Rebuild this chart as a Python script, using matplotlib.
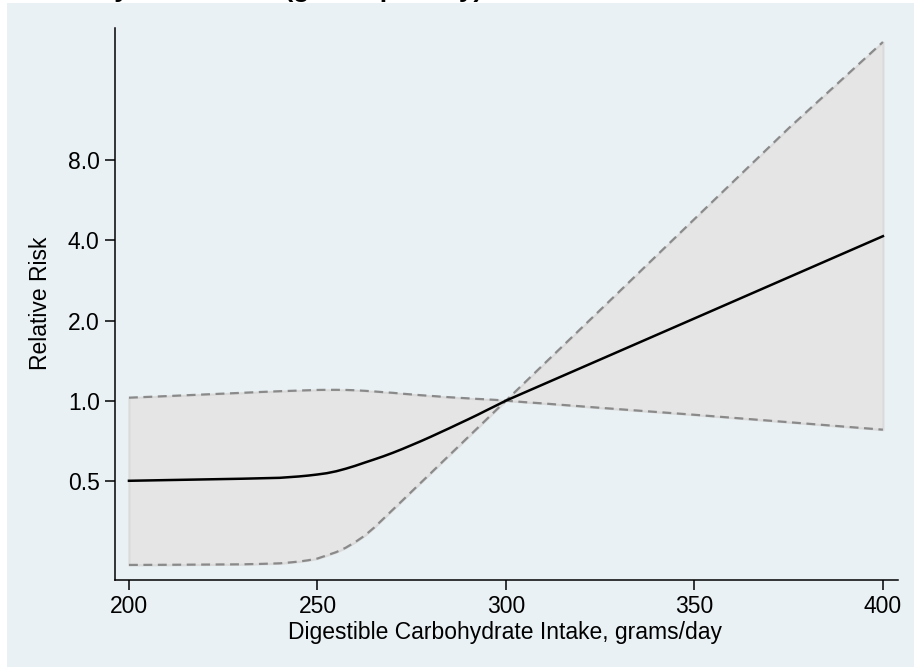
import matplotlib
matplotlib.use("Agg")
import matplotlib.pyplot as plt
from matplotlib.patches import Rectangle

plt.rcParams['font.family'] = ['Liberation Sans', 'DejaVu Sans']

# intake grid (g/day) and spline estimates of the relative risk
intake = [200, 210, 220, 230, 235, 240, 242.5, 245, 247.5, 250, 252.5, 255,
          257.5, 260, 262.5, 265, 267.5, 270, 272.5, 275, 277.5, 280, 282.5,
          285, 287.5, 290, 292.5, 295, 297.5, 300, 305, 310, 325, 350, 375, 400]
rr = [0.500, 0.503, 0.506, 0.509, 0.511, 0.513, 0.516, 0.519, 0.523, 0.528,
      0.534, 0.543, 0.555, 0.569, 0.585, 0.601, 0.618, 0.637, 0.658, 0.681,
      0.705, 0.731, 0.759, 0.788, 0.819, 0.851, 0.885, 0.922, 0.960, 1.000,
      1.074, 1.153, 1.427, 2.036, 2.906, 4.147]
# confidence bounds: one rises from the lower left, the other falls from the upper left
ci_rising = [0.2415, 0.2418, 0.2423, 0.2428, 0.2437, 0.2449, 0.2466, 0.2486,
             0.2514, 0.2553, 0.2624, 0.2699, 0.2803, 0.2942, 0.3110, 0.3333,
             0.3602, 0.3896, 0.4212, 0.4558, 0.4931, 0.5332, 0.5771, 0.6242,
             0.6751, 0.7305, 0.7900, 0.8545, 0.9246, 1.000, 1.170, 1.369,
             2.19, 4.81, 10.55, 22.24]
ci_falling = [1.026, 1.040, 1.055, 1.070, 1.078, 1.085, 1.088, 1.091, 1.094,
              1.097, 1.098, 1.098, 1.097, 1.094, 1.089, 1.083, 1.076, 1.070,
              1.062, 1.055, 1.048, 1.042, 1.036, 1.030, 1.025, 1.020, 1.015,
              1.011, 1.006, 1.000, 0.987, 0.976, 0.940, 0.885, 0.830, 0.778]

x_ticks = [200, 250, 300, 350, 400]
y_ticks = [0.5, 1.0, 2.0, 4.0, 8.0]
y_tick_labels = ['0.5', '1.0', '2.0', '4.0', '8.0']

bg = '#e9f1f4'
W, H = 914, 667
fig = plt.figure(figsize=(W / 100, H / 100), dpi=100)
fig.patch.set_facecolor('white')
fig.add_artist(Rectangle((7 / W, 0), 1 - 7 / W, 1 - 3 / H, transform=fig.transFigure,
                         facecolor=bg, edgecolor='none', zorder=0))

# title sits just above the canvas, only its descenders reach into view
fig.text(22 / W, 1 + 3.5 / H, 'Carbohydrate Intake (grams per day)', fontsize=19,
         fontweight='bold', ha='left', va='baseline', zorder=5)

ax = fig.add_axes([115 / W, 1 - 580 / H, (898 - 115) / W, (580 - 28) / H])
ax.set_facecolor('none')

ax.fill_between(intake, ci_rising, ci_falling, facecolor='#e5e5e5',
                edgecolor='#dadada', linewidth=1.5, zorder=1)
ax.plot(intake, ci_rising, color='#8a8a8a', lw=1.6, ls=(0, (4, 2.5)), zorder=2)
ax.plot(intake, ci_falling, color='#8a8a8a', lw=1.6, ls=(0, (4, 2.5)), zorder=2)
ax.plot(intake, rr, color='black', lw=1.8, zorder=3)

ax.set_yscale('log')
ax.set_xlim(196.3, 404)
ax.set_ylim(0.212, 25.1)
ax.set_xticks(x_ticks)
ax.set_yticks(y_ticks)
ax.set_yticklabels(y_tick_labels)
ax.yaxis.set_minor_locator(matplotlib.ticker.NullLocator())

for side in ['top', 'right']:
    ax.spines[side].set_visible(False)
for side in ['left', 'bottom']:
    ax.spines[side].set_linewidth(1.1)
ax.tick_params(axis='both', direction='out', length=7, width=1.1, labelsize=16.5,
               pad=4, colors='black')

ax.set_xlabel('Digestible Carbohydrate Intake, grams/day', fontsize=16.5)
ax.set_ylabel('Relative Risk', fontsize=16.5)
ax.xaxis.set_label_coords((505 - 115) / (898 - 115), -(632 - 580) / (580 - 28))
ax.yaxis.set_label_coords(-(115 - 41) / (898 - 115), (580 - 303) / (580 - 28))
ax.xaxis.label.set_va('center')
ax.yaxis.label.set_va('center')

fig.savefig('out.png', dpi=100, facecolor=fig.get_facecolor())
